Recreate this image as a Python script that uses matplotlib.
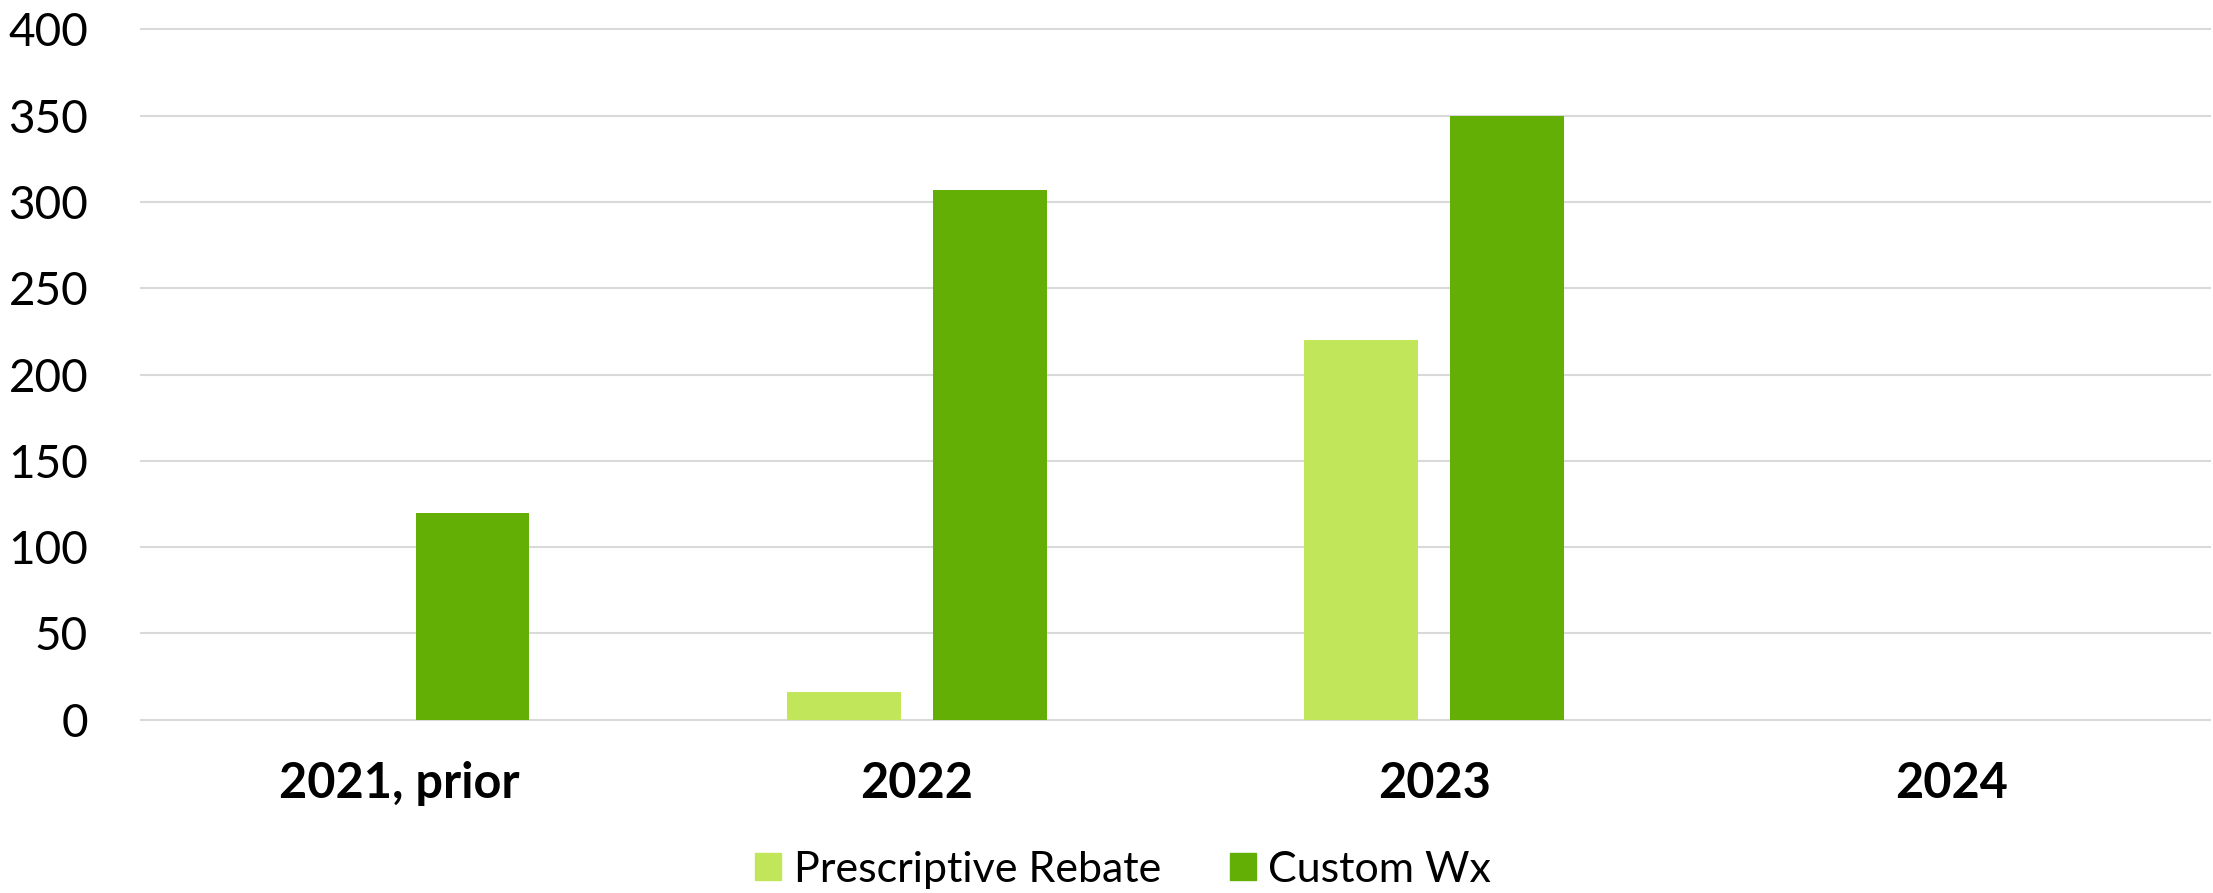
import numpy as np
import matplotlib.pyplot as plt
from matplotlib.patches import Patch

# chart data
years = ['2021, prior', '2022', '2023', '2024']
prescriptive = [0, 16, 220, 0]
custom_wx = [120, 307, 350, 0]

light = '#C1E65A'
dark = '#64AF06'
grid_col = '#D9D9D9'

plt.rcParams['font.family'] = ['Lato', 'DejaVu Sans']

fig = plt.figure(figsize=(22.13, 8.93), dpi=100)
ax = fig.add_axes([0.0637, 0.194, 0.935, 0.773])

x = np.arange(len(years))
w = 0.22
off = 0.141
ax.bar(x - off, prescriptive, width=w, color=light, zorder=3)
ax.bar(x + off, custom_wx, width=w, color=dark, zorder=3)

ax.set_xlim(-0.5, len(years) - 0.5)
ax.set_ylim(0, 400)
ax.set_yticks(np.arange(0, 401, 50))
ax.yaxis.grid(True, color=grid_col, linewidth=1.5, clip_on=False)
ax.set_axisbelow(True)
for s in ax.spines.values():
    s.set_visible(False)

ax.set_xticks(x)
ax.set_xticklabels(years, fontsize=35, fontweight='bold')
ax.tick_params(axis='x', length=0, pad=30)
ax.tick_params(axis='y', length=0, pad=38, labelsize=33)

handles = [Patch(color=light, label='Prescriptive Rebate'),
           Patch(color=dark, label='Custom Wx')]
fig.legend(handles=handles, loc='center', bbox_to_anchor=(0.5075, 0.026),
           ncol=2, frameon=False, fontsize=31, handlelength=0.6,
           handleheight=0.6, handletextpad=0.3, columnspacing=1.6)

fig.savefig('out.png', dpi=100)
